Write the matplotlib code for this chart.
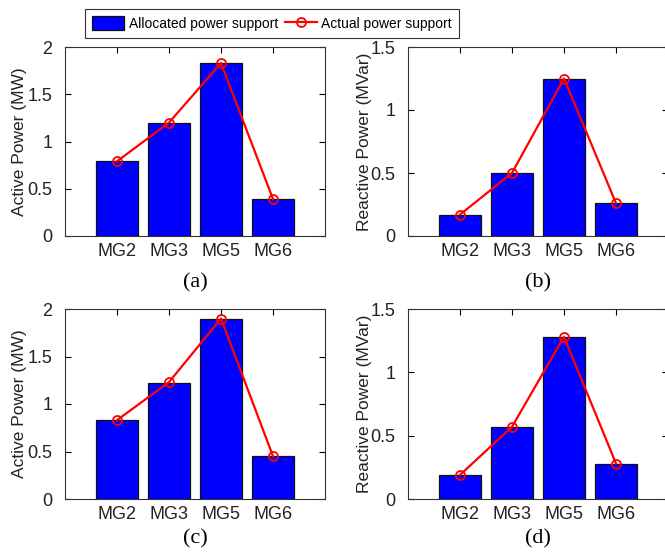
import matplotlib
matplotlib.use("Agg")
import matplotlib.pyplot as plt
import numpy as np

categories = ["MG2", "MG3", "MG5", "MG6"]
alloc_a = [0.79, 1.20, 1.83, 0.39]
actual_a = [0.79, 1.20, 1.83, 0.39]
alloc_b = [0.17, 0.50, 1.25, 0.26]
actual_b = [0.17, 0.50, 1.25, 0.26]
alloc_c = [0.83, 1.22, 1.90, 0.45]
actual_c = [0.83, 1.23, 1.90, 0.45]
alloc_d = [0.19, 0.57, 1.28, 0.28]
actual_d = [0.19, 0.57, 1.28, 0.28]

plt.rcParams['font.family'] = ['Liberation Sans', 'DejaVu Sans']

W, H = 665, 552
fig = plt.figure(figsize=(W / 100, H / 100), dpi=100)

def ax_at(left, top, right, bottom):
    return fig.add_axes([left / W, 1 - bottom / H, (right - left) / W, (bottom - top) / H])

panels = [
    (65, 47, 325, 236, alloc_a, actual_a, 2.0, [0, 0.5, 1, 1.5, 2], "Active Power (MW)", "(a)", 283, -0.146),
    (408, 47, 668, 236, alloc_b, actual_b, 1.5, [0, 0.5, 1, 1.5], "Reactive Power (MVar)", "(b)", 283, -0.138),
    (65, 309, 325, 499, alloc_c, actual_c, 2.0, [0, 0.5, 1, 1.5, 2], "Active Power (MW)", "(c)", 539, -0.146),
    (408, 309, 668, 499, alloc_d, actual_d, 1.5, [0, 0.5, 1, 1.5], "Reactive Power (MVar)", "(d)", 539, -0.138),
]

x = np.arange(1, len(categories) + 1)
handles = None
for (l, t, r, b, alloc, actual, ymax, yt, ylab, cap, capy, labx) in panels:
    ax = ax_at(l, t, r, b)
    bars = ax.bar(x, alloc, width=0.8, color="#0000ff", edgecolor="#111111", linewidth=0.9,
                  label="Allocated power support", zorder=2)
    ln, = ax.plot(x, actual, color="red", linewidth=1.6, marker="o", markersize=6.5,
                  markerfacecolor="none", markeredgecolor="red", markeredgewidth=1.3,
                  label="Actual power support", zorder=3)
    handles = [bars, ln]
    ax.set_xlim(0, 5)
    ax.set_ylim(0, ymax)
    ax.set_xticks(x)
    ax.set_xticklabels(categories)
    ax.set_yticks(yt)
    ax.set_yticklabels([("%g" % v) for v in yt])
    ax.tick_params(direction="in", top=True, right=True, labelsize=13, length=4,
                   width=0.8, colors="black", labelcolor="#222222")
    ax.tick_params(axis="y", pad=9)
    ax.tick_params(axis="x", pad=5)
    for s in ax.spines.values():
        s.set_linewidth(0.8)
        s.set_color("#333333")
    ax.set_ylabel(ylab, fontsize=12.5, color="#222222")
    ax.yaxis.set_label_coords(labx, 0.5)
    fig.text(((l + r) / 2) / W, 1 - capy / H, cap, ha="center", va="center",
             fontsize=16, family=["Liberation Serif", "DejaVu Serif"])

leg = fig.legend(handles, ["Allocated power support", "Actual power support"],
                 loc="center", bbox_to_anchor=(272 / W, 1 - 23.5 / H), ncol=2,
                 fontsize=10, frameon=True, fancybox=False, edgecolor="black",
                 handlelength=2.3, handleheight=1.1, handletextpad=0.3, columnspacing=0.5,
                 borderpad=0.55, borderaxespad=0)
leg.get_frame().set_linewidth(0.8)

fig.savefig("out.png", dpi=100)
